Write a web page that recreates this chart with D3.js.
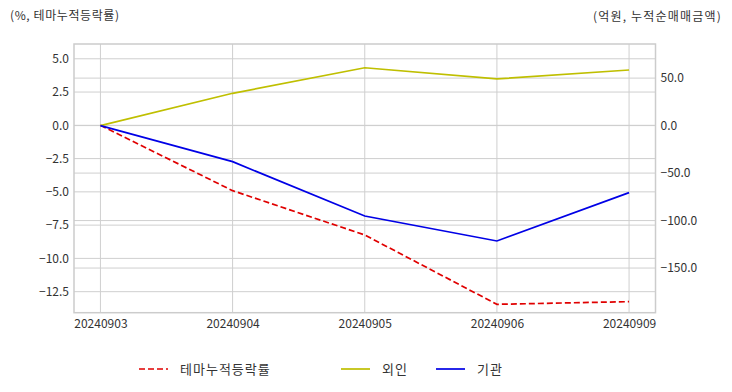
<!DOCTYPE html>
<html><head><meta charset="utf-8">
<script src="https://cdn.jsdelivr.net/npm/d3@7"></script>
<style>
html,body{margin:0;padding:0;background:#fff;}
svg{display:block;font-family:"Noto Sans CJK KR","Noto Sans",sans-serif;}
</style></head>
<body><svg id="c" width="732" height="392"></svg>
<script>
const dates = ["20240903","20240904","20240905","20240906","20240909"];
const themeRet = [0, -4.91, -8.24, -13.45, -13.25];
const foreign = [0, 34.0, 60.9, 49.1, 58.5];
const inst = [0, -38.0, -95.2, -121.5, -70.6];
const leftTicks = [5.0, 2.5, 0.0, -2.5, -5.0, -7.5, -10.0, -12.5];
const rightTicks = [50, 0, -50, -100, -150];
const seriesNames = ["테마누적등락률", "외인", "기관"];
const leftTitle = "(%, 테마누적등락률)";
const rightTitle = "(억원, 누적순매매금액)";

const svg = d3.select("#c");
const L = 74, R = 655.5, T = 44, B = 312.7;
const x = d3.scalePoint().domain(dates).range([L, R]).padding(0.2);
const yL = d3.scaleLinear().domain([-14.08, 6.11]).range([B, T]);
const yR = d3.scaleLinear().domain([-197, 85.9]).range([B, T]);
const txt = "#333";
const grid = "#cfcfcf";

const g = svg.append("g");
g.selectAll(".gl").data(leftTicks).join("line")
  .attr("x1", L).attr("x2", R).attr("y1", d => yL(d)).attr("y2", d => yL(d))
  .attr("stroke", grid).attr("stroke-width", 1);
g.selectAll(".gr").data(rightTicks).join("line")
  .attr("x1", L).attr("x2", R).attr("y1", d => yR(d)).attr("y2", d => yR(d))
  .attr("stroke", grid).attr("stroke-width", 1);
g.selectAll(".gx").data(dates).join("line")
  .attr("x1", d => x(d)).attr("x2", d => x(d)).attr("y1", T).attr("y2", B)
  .attr("stroke", grid).attr("stroke-width", 1);
svg.append("rect").attr("x", L).attr("y", T).attr("width", R - L).attr("height", B - T)
  .attr("fill", "none").attr("stroke", "#cccccc").attr("stroke-width", 1.5);

const axL = svg.append("g").attr("transform", `translate(${L},0)`)
  .call(d3.axisLeft(yL).tickValues(leftTicks).tickFormat(d3.format(".1f")).tickSize(0).tickPadding(5));
const axR = svg.append("g").attr("transform", `translate(${R},0)`)
  .call(d3.axisRight(yR).tickValues(rightTicks).tickFormat(d3.format(".1f")).tickSize(0).tickPadding(5));
const axB = svg.append("g").attr("transform", `translate(0,${B})`)
  .call(d3.axisBottom(x).tickSize(0).tickPadding(7));
[axL, axR, axB].forEach(a => {
  a.select(".domain").remove();
  a.selectAll("text").attr("fill", txt).style("font-size", "12px")
    .style("font-family", "'Noto Sans CJK KR','Noto Sans',sans-serif");
});

svg.append("text").attr("x", 10).attr("y", 20).attr("fill", txt)
  .style("font-size", "12px").style("letter-spacing", "0.6px").text(leftTitle);
svg.append("text").attr("x", 722).attr("y", 21).attr("text-anchor", "end").attr("fill", txt)
  .style("font-size", "12px").style("letter-spacing", "1.2px").text(rightTitle);

const lineL = d3.line().x((d, i) => x(dates[i])).y(d => yL(d));
const lineR = d3.line().x((d, i) => x(dates[i])).y(d => yR(d));
const colors = ["#e00000", "#bfbf00", "#0000e6"];
svg.append("path").datum(themeRet).attr("d", lineL).attr("fill", "none")
  .attr("stroke", colors[0]).attr("stroke-width", 1.7).attr("stroke-dasharray", "6,3");
svg.append("path").datum(foreign).attr("d", lineR).attr("fill", "none")
  .attr("stroke", colors[1]).attr("stroke-width", 1.7);
svg.append("path").datum(inst).attr("d", lineR).attr("fill", "none")
  .attr("stroke", colors[2]).attr("stroke-width", 1.7);

const legX = [139, 341, 436];
const legY = 369;
seriesNames.forEach((n, i) => {
  svg.append("line").attr("x1", legX[i]).attr("x2", legX[i] + 29).attr("y1", legY).attr("y2", legY)
    .attr("stroke", colors[i]).attr("stroke-width", 1.7)
    .attr("stroke-dasharray", i === 0 ? "6,3" : null);
  svg.append("text").attr("x", legX[i] + 41).attr("y", legY + 5).attr("fill", txt)
    .style("font-size", "13px").style("letter-spacing", "1px").text(n);
});
</script></body></html>
